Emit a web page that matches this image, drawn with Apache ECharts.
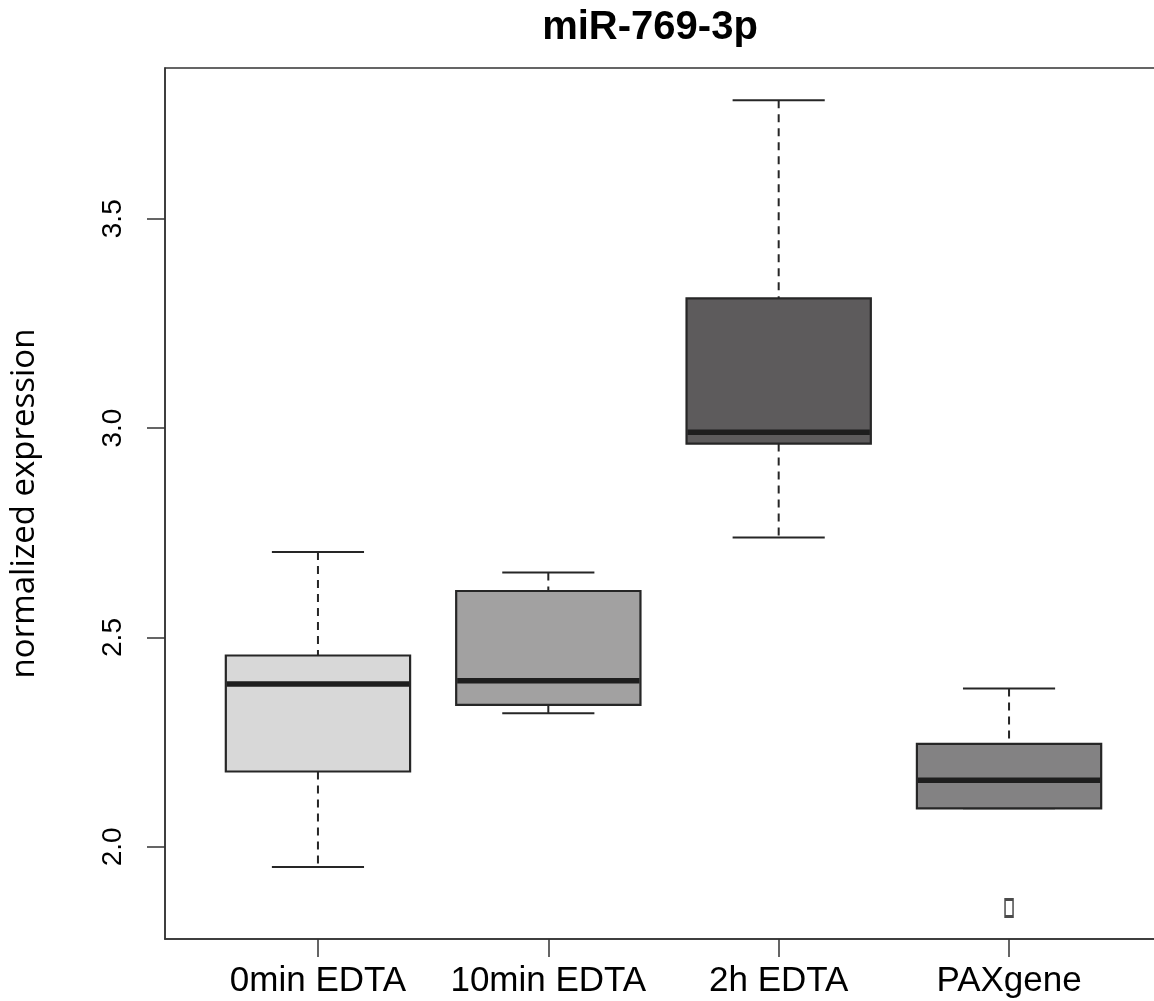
<!DOCTYPE html>
<html>
<head>
<meta charset="utf-8">
<script src="https://cdn.jsdelivr.net/npm/echarts@6/dist/echarts.min.js"></script>
<style>
html,body{margin:0;padding:0;overflow:hidden;background:#fff;}
#chart{width:1170px;height:1001px;}
</style>
</head>
<body>
<div id="chart"></div>
<script>
// ---- data ----
var categories = ['0min EDTA', '10min EDTA', '2h EDTA', 'PAXgene'];
var positions = [1, 2, 3, 4];
var whiskerLow  = [1.952, 2.319, 2.739, 2.092];
var q1          = [2.180, 2.339, 2.963, 2.092];
var median      = [2.389, 2.397, 2.990, 2.159];
var q3          = [2.457, 2.611, 3.310, 2.246];
var whiskerHigh = [2.704, 2.655, 3.783, 2.378];
var outlierX    = [4];
var outlierY    = [1.854];
var yTicks      = [2.0, 2.5, 3.0, 3.5];
var yTickLabels = ['2.0', '2.5', '3.0', '3.5'];

var boxFill = ['#d8d8d8', '#a2a1a1', '#5d5b5c', '#838283'];

var boxData = positions.map(function (p, i) {
  return [p, whiskerLow[i], q1[i], median[i], q3[i], whiskerHigh[i], i];
});
var outlierData = outlierX.map(function (x, i) { return [x, outlierY[i]]; });

var chart = echarts.init(document.getElementById('chart'), null, {renderer: 'canvas'});

function renderBox(params, api) {
  var x = api.value(0);
  var lo = api.value(1), b1 = api.value(2), md = api.value(3), b3 = api.value(4), hi = api.value(5);
  var idx = api.value(6);
  var halfBox = 0.4, halfCap = 0.2;
  var pL = api.coord([x - halfBox, b3]);
  var pR = api.coord([x + halfBox, b1]);
  var cL = api.coord([x - halfCap, hi]);
  var cR = api.coord([x + halfCap, lo]);
  var pc = api.coord([x, md]);
  var pHi = api.coord([x, hi]), pLo = api.coord([x, lo]);
  var pQ3 = api.coord([x, b3]), pQ1 = api.coord([x, b1]);
  var line = {stroke: '#262626', lineWidth: 2};
  var dash = {stroke: '#262626', lineWidth: 2, lineDash: [8, 6]};
  var children = [];
  if (hi > b3) {
    children.push({type: 'line', shape: {x1: pHi[0], y1: pHi[1], x2: pQ3[0], y2: pQ3[1]}, style: dash});
  }
  children.push({type: 'line', shape: {x1: cL[0], y1: pHi[1], x2: cR[0], y2: pHi[1]}, style: line});
  if (lo < b1) {
    children.push({type: 'line', shape: {x1: pQ1[0], y1: pQ1[1], x2: pLo[0], y2: pLo[1]}, style: dash});
  }
  children.push({type: 'line', shape: {x1: cL[0], y1: pLo[1], x2: cR[0], y2: pLo[1]}, style: line});
  children.push({type: 'rect', shape: {x: pL[0], y: pL[1], width: pR[0] - pL[0], height: pR[1] - pL[1]},
    style: {fill: boxFill[idx], stroke: '#262626', lineWidth: 2.2}});
  children.push({type: 'line', shape: {x1: pL[0] + 1, y1: pc[1], x2: pR[0] - 1, y2: pc[1]},
    style: {stroke: '#1e1e1e', lineWidth: 5.5}});
  return {type: 'group', children: children};
}

var option = {
  animation: false,
  backgroundColor: '#fff',
  title: {
    text: 'miR-769-3p',
    left: 650,
    top: 8,
    padding: 0,
    textAlign: 'center',
    textStyle: {fontFamily: 'Liberation Sans', fontWeight: 'bold', fontSize: 40, color: '#000'}
  },
  grid: {
    left: 165, top: 68, width: 997, height: 871,
    show: true, borderColor: '#333', borderWidth: 1.5, backgroundColor: 'transparent'
  },
  xAxis: {
    type: 'value',
    min: 0.336, max: 4.664,
    splitLine: {show: false},
    axisLine: {show: true, lineStyle: {color: '#333', width: 1.5}},
    axisTick: {show: true, customValues: positions, length: 18, lineStyle: {color: '#333', width: 1.5}},
    axisLabel: {
      customValues: positions,
      margin: 25,
      fontFamily: 'Liberation Sans', fontSize: 35, color: '#000',
      formatter: function (v) { return categories[Math.round(v) - 1]; }
    }
  },
  yAxis: {
    type: 'value',
    min: 1.78, max: 3.86,
    splitLine: {show: false},
    axisLine: {show: true, lineStyle: {color: '#333', width: 1.5}},
    axisTick: {show: true, customValues: yTicks, length: 18, lineStyle: {color: '#333', width: 1.5}},
    axisLabel: {
      customValues: yTicks,
      rotate: 90,
      margin: 38,
      fontFamily: 'Liberation Sans', fontSize: 28, color: '#000',
      formatter: function (v) {
        for (var i = 0; i < yTicks.length; i++) { if (Math.abs(yTicks[i] - v) < 1e-6) return yTickLabels[i]; }
        return '';
      }
    },
    name: 'normalized expression',
    nameLocation: 'middle',
    nameRotate: 90,
    nameGap: 124,
    nameTextStyle: {fontFamily: 'Open Sans', fontSize: 33, color: '#000'}
  },
  series: [
    {
      type: 'custom',
      renderItem: renderBox,
      data: boxData,
      encode: {x: 0, y: [1, 2, 3, 4, 5]},
      clip: false
    },
    {
      type: 'scatter',
      data: outlierData,
      symbol: 'rect',
      symbolSize: [8, 17],
      itemStyle: {color: '#fff', borderColor: '#1e1e1e', borderWidth: 2.2}
    }
  ]
};
chart.setOption(option);
</script>
</body>
</html>
